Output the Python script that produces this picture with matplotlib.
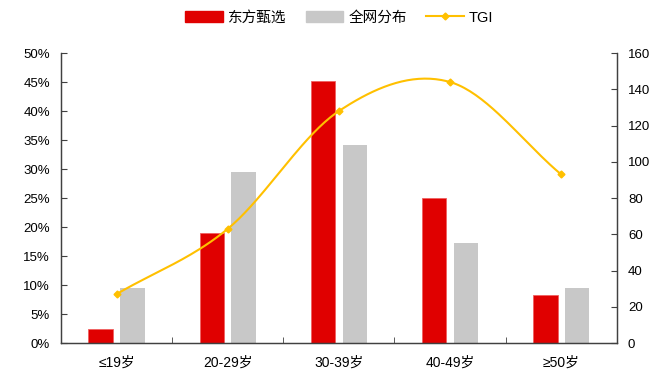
import numpy as np
import matplotlib.pyplot as plt
from matplotlib.lines import Line2D
from matplotlib.patches import Patch

plt.rcParams['font.family'] = ['Liberation Sans', 'Noto Sans CJK SC', 'DejaVu Sans']

categories = ['≤19岁', '20-29岁', '30-39岁', '40-49岁', '≥50岁']
dongfang = [2.5, 19.0, 45.2, 25.0, 8.2]      # %
quanwang = [9.5, 29.5, 34.2, 17.2, 9.5]      # %
tgi = [27, 63, 128, 144, 93]

red = '#E00000'
gray = '#C8C8C8'
yellow = '#FFC000'
axc = '#404040'


def catmull_rom(xs, ys, n=40):
    # smooth curve through the points (like Excel's smoothed line)
    xs = np.asarray(xs, float)
    ys = np.asarray(ys, float)
    px = np.concatenate([[2 * xs[0] - xs[1]], xs, [2 * xs[-1] - xs[-2]]])
    py = np.concatenate([[2 * ys[0] - ys[1]], ys, [2 * ys[-1] - ys[-2]]])
    outx, outy = [], []
    for i in range(1, len(px) - 2):
        t = np.linspace(0, 1, n)
        for p, out in ((px, outx), (py, outy)):
            p0, p1, p2, p3 = p[i - 1], p[i], p[i + 1], p[i + 2]
            v = 0.5 * ((2 * p1) + (-p0 + p2) * t + (2 * p0 - 5 * p1 + 4 * p2 - p3) * t ** 2
                       + (-p0 + 3 * p1 - 3 * p2 + p3) * t ** 3)
            out.extend(v)
    return np.array(outx), np.array(outy)


fig = plt.figure(figsize=(6.64, 3.9), dpi=100)
ax = fig.add_axes([0.0919, 0.1205, 0.837, 0.7435])
x = np.arange(len(categories))
w = 0.22
off = 0.143
ax.bar(x - off, dongfang, w, color=red, edgecolor='#F06060', linewidth=0.6, zorder=2)
ax.bar(x + off, quanwang, w, color=gray, zorder=2)

ax.set_xlim(-0.5, len(categories) - 0.5)
ax.set_ylim(0, 50)
ax.set_yticks(np.arange(0, 51, 5))
ax.set_yticklabels([f'{v}%' for v in range(0, 51, 5)])
ax.set_xticks(x)
ax.set_xticklabels(categories)
ax.set_xticks(np.arange(0.5, len(categories) - 1, 1), minor=True)
ax.tick_params(axis='x', which='major', length=0, pad=9, labelsize=10)
ax.tick_params(axis='x', which='minor', direction='in', length=4, color=axc)
ax.tick_params(axis='y', direction='in', length=4, color=axc, labelsize=9.5, pad=8)

ax2 = ax.twinx()
sx, sy = catmull_rom(x, tgi)
ax2.plot(sx, sy, color=yellow, lw=1.5, zorder=3)
ax2.plot(x, tgi, linestyle='none', marker='D', markersize=3.5, color=yellow, zorder=4)
ax2.set_ylim(0, 160)
ax2.set_yticks(np.arange(0, 161, 20))
ax2.tick_params(axis='y', direction='in', length=4, color=axc, labelsize=9.5, pad=8)

for a in (ax, ax2):
    a.spines['top'].set_visible(False)
    for s in ('left', 'right', 'bottom'):
        a.spines[s].set_color(axc)
        a.spines[s].set_linewidth(0.9)

handles = [Patch(color=red), Patch(color=gray),
           Line2D([0], [0], color=yellow, lw=1.5, marker='D', markersize=3.5)]
fig.legend(handles, ['东方甄选', '全网分布', 'TGI'], loc='center', bbox_to_anchor=(0.511, 0.955),
           ncol=3, frameon=False, fontsize=10.5, handlelength=2.6, handleheight=0.8,
           columnspacing=1.3, handletextpad=0.35)

fig.savefig('out.png', dpi=100)
